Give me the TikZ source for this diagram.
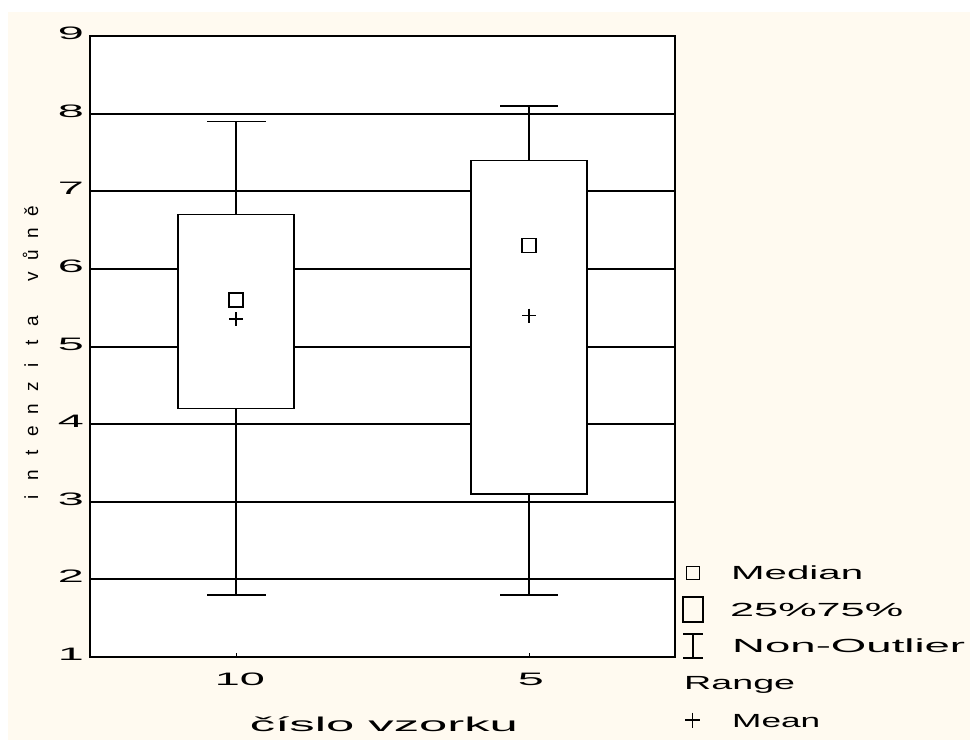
\documentclass[tikz,border=0pt]{standalone}
\usepackage{fontspec}
\setmainfont{Liberation Sans}
\usepackage{graphicx}
\definecolor{cream}{HTML}{FFFAF0}
\newcommand{\widen}[2]{\scalebox{#1}[1]{#2}}
\newcommand{\fitw}[2]{\resizebox{#1}{\height}{#2}}
\newcommand{\slot}[1]{\makebox[22pt][c]{#1}}
\begin{document}
\begin{tikzpicture}[x=1pt,y=-1pt,
  ticklab/.style={inner sep=0pt, font=\fontsize{18}{20}\selectfont},
  legtext/.style={inner sep=0pt, anchor=base west, font=\fontsize{19}{21}\selectfont},
  gridln/.style={line width=1.6pt, black},
  frameln/.style={line width=1.6pt},
  boxln/.style={line width=1.4pt, fill=white},
  whisk/.style={line width=1.4pt, black},
  medmark/.style={line width=1.4pt},
  plusmark/.style={line width=1.8pt}
]
\useasboundingbox (0,0) rectangle (970,740);
\fill[white] (0,0) rectangle (970,740);
\fill[cream] (8,12) rectangle (970,740);
% plot area
\fill[white] (90,36) rectangle (675,657);
% grid lines
\foreach \yy in {114,191,269,347,424,502,579}
  \draw[gridln] (90,\yy) -- (675,\yy);
% whiskers sample 10
\coordinate (w1top) at (236,121.4);
\coordinate (w1bot) at (236,594.9);
\draw[whisk] (w1top) -- (w1bot);
\draw[whisk] (207,121.4) -- (266,121.4);
\draw[whisk] (207,594.9) -- (266,594.9);
% whiskers sample 5
\coordinate (w2top) at (529,105.9);
\coordinate (w2bot) at (529,594.9);
\draw[whisk] (w2top) -- (w2bot);
\draw[whisk] (500,105.9) -- (558,105.9);
\draw[whisk] (500,594.9) -- (558,594.9);
% boxes
\draw[boxln] (178,214.5) rectangle (294,408.6);
\draw[boxln] (471,160.2) rectangle (587,494.0);
% medians
\draw[medmark] (229,293) rectangle (243,307);
\draw[medmark] (522,238.6) rectangle (536,252.6);
% means
\draw[plusmark] (229,319.3) -- (243,319.3) (236,312.3) -- (236,326.3);
\draw[plusmark] (522,315.5) -- (536,315.5) (529,308.5) -- (529,322.5);
% frame
\draw[frameln] (90,36) rectangle (675,657);
% x ticks
\draw[line width=1pt] (236,657) -- (236,653);
\draw[line width=1pt] (529,657) -- (529,653);
% y tick labels
\foreach \v/\yy in {9/36,8/114,7/191,6/269,5/347,4/424,3/502,2/579,1/657}
  \node[ticklab] (yl\v) at (71,\yy-3) {\widen{2.6}{\v}};
% x tick labels
\node[ticklab] (xl10) at (240,679) {\widen{2.5}{10}};
\node[ticklab] (xl5) at (531,679) {\widen{2.6}{5}};
% axis titles
\node[inner sep=0pt, anchor=base, font=\fontsize{20}{22}\selectfont] (xtitle) at (384,731) {\fitw{268pt}{číslo vzorku}};
\node[inner sep=0pt, anchor=base, rotate=90, font=\fontsize{19}{22}\selectfont] (ytitle) at (38,354)
  {\slot{i}\slot{n}\slot{t}\slot{e}\slot{n}\slot{z}\slot{i}\slot{t}\slot{a}\slot{}\slot{v}\slot{ů}\slot{n}\slot{ě}};
% legend
\draw[line width=1.3pt] (686.5,566.5) rectangle (699.5,579.5);
\draw[line width=1.4pt] (683,597) rectangle (703,622);
\draw[line width=1.3pt] (693,634) -- (693,658) (683,634) -- (703,634) (683,658) -- (703,658);
\draw[plusmark] (685,720) -- (700,720) (692.5,712.5) -- (692.5,727.5);
\node[legtext] (lmed) at (731,579) {\fitw{132pt}{Median}};
\node[legtext] (lbox) at (730,616) {\fitw{173pt}{25\%75\%}};
\node[legtext] (lrng) at (732,652) {\fitw{233pt}{Non-Outlier}};
\node[legtext] (lrng2) at (684,689) {\fitw{111pt}{Range}};
\node[legtext] (lmean) at (732,727) {\fitw{88pt}{Mean}};
\end{tikzpicture}
\end{document}
